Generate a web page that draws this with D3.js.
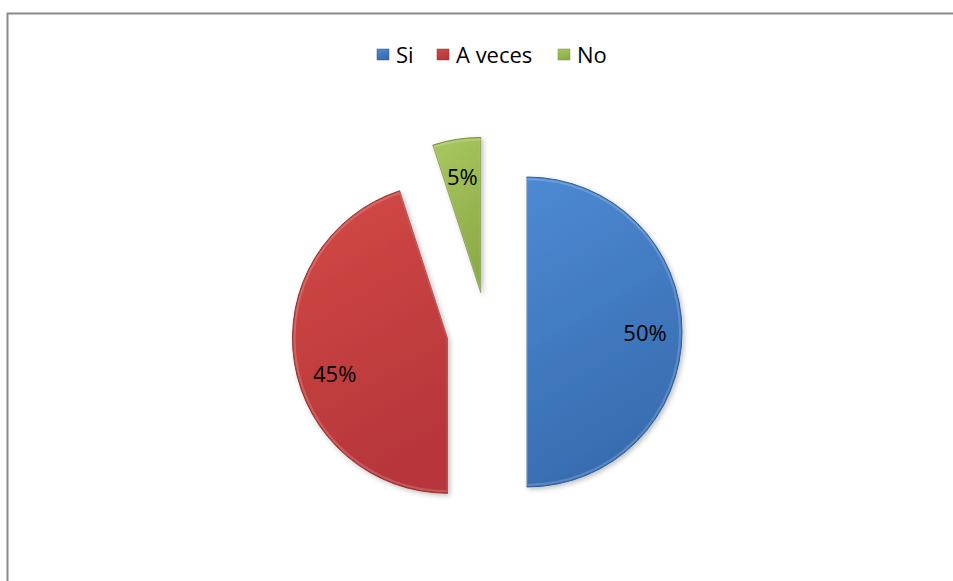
<html>
<head>
  <meta charset="utf-8">
  <title>Pie</title>
  <script src="https://d3js.org/d3.v7.min.js"></script>
  <style>
    body { margin: 0; background: #fff; }
    svg text { font-family: "Open Sans", sans-serif; fill: #000; }
  </style>
</head>
<body>
  <div id="chart"></div>
  <script type="text/javascript">

    // data
    var categories = ["Si", "A veces", "No"];
    var values = [50, 45, 5];
    var labels = ["50%", "45%", "5%"];

    var width = 953, height = 581;
    var cx = 487, cy = 332;
    var radius = 155;
    var explode = 40;

    var colors = {
      "Si":      {top: "#4d8ad3", bottom: "#386cb0", edge: "#2f5c98"},
      "A veces": {top: "#d34a46", bottom: "#b7363a", edge: "#963030"},
      "No":      {top: "#a9c860", bottom: "#8dab47", edge: "#76913a"}
    };

    // label angle tweak (degrees) for best-fit placement
    var labelShift = {"Si": 0, "A veces": -8, "No": 0};

    var svg = d3.select("#chart")
      .append("svg")
        .attr("width", width)
        .attr("height", height);

    var defs = svg.append("defs");

    categories.forEach(function(c, i) {
      var g = defs.append("linearGradient")
          .attr("id", "grad" + i)
          .attr("x1", 0).attr("y1", 0)
          .attr("x2", 0.3).attr("y2", 1);
      g.append("stop").attr("offset", "0%").attr("stop-color", colors[c].top);
      g.append("stop").attr("offset", "100%").attr("stop-color", colors[c].bottom);
    });

    var shadow = defs.append("filter")
        .attr("id", "shadow")
        .attr("x", "-20%").attr("y", "-20%")
        .attr("width", "140%").attr("height", "140%");
    shadow.append("feDropShadow")
        .attr("dx", 2).attr("dy", 2)
        .attr("stdDeviation", 2.5)
        .attr("flood-color", "#000")
        .attr("flood-opacity", 0.25);

    // chart border (only top and left edges are inside the frame)
    svg.append("rect")
        .attr("x", 7.5)
        .attr("y", 13.5)
        .attr("width", 1000)
        .attr("height", 1000)
        .attr("fill", "none")
        .attr("stroke", "#8a8a8a")
        .attr("stroke-width", 2);

    var pie = d3.pie()
        .sort(null)
        .value(function(d) { return d; });

    var arc = d3.arc()
        .innerRadius(0)
        .outerRadius(radius);

    var bevel = d3.arc()
        .innerRadius(0)
        .outerRadius(radius - 2);

    var arcs = pie(values);

    var slice = svg.selectAll(".slice")
        .data(arcs)
        .enter()
        .append("g")
        .attr("class", "slice")
        .attr("transform", function(d) {
          var a = (d.startAngle + d.endAngle) / 2;
          var x = cx + explode * Math.sin(a);
          var y = cy - explode * Math.cos(a);
          return "translate(" + x + "," + y + ")";
        });

    slice.append("path")
        .attr("d", arc)
        .attr("fill", function(d, i) { return "url(#grad" + i + ")"; })
        .attr("stroke", function(d, i) { return colors[categories[i]].edge; })
        .attr("stroke-width", 1)
        .attr("filter", "url(#shadow)");

    slice.append("path")
        .attr("d", bevel)
        .attr("fill", "none")
        .attr("stroke", "#fff")
        .attr("stroke-opacity", 0.18)
        .attr("stroke-width", 2);

    slice.append("text")
        .attr("text-anchor", "middle")
        .attr("dominant-baseline", "central")
        .attr("font-size", 22)
        .attr("transform", function(d, i) {
          var a = (d.startAngle + d.endAngle) / 2 + labelShift[categories[i]] * Math.PI / 180;
          var r = 118;
          return "translate(" + (r * Math.sin(a)) + "," + (-r * Math.cos(a)) + ")";
        })
        .text(function(d, i) { return labels[i]; });

    // legend
    var legend = svg.append("g")
        .attr("transform", "translate(0,54)");

    var legendX = [377, 437, 558];

    var item = legend.selectAll(".item")
        .data(categories)
        .enter()
        .append("g")
        .attr("class", "item")
        .attr("transform", function(d, i) { return "translate(" + legendX[i] + ",0)"; });

    item.append("rect")
        .attr("x", 0)
        .attr("y", -5)
        .attr("width", 12)
        .attr("height", 11)
        .attr("fill", function(d, i) { return "url(#grad" + i + ")"; })
        .attr("stroke", function(d) { return colors[d].edge; })
        .attr("stroke-width", 0.5);

    item.append("text")
        .attr("x", 19)
        .attr("y", 0)
        .attr("dominant-baseline", "central")
        .attr("font-size", 22)
        .text(function(d) { return d; });

  </script>
</body>
</html>
